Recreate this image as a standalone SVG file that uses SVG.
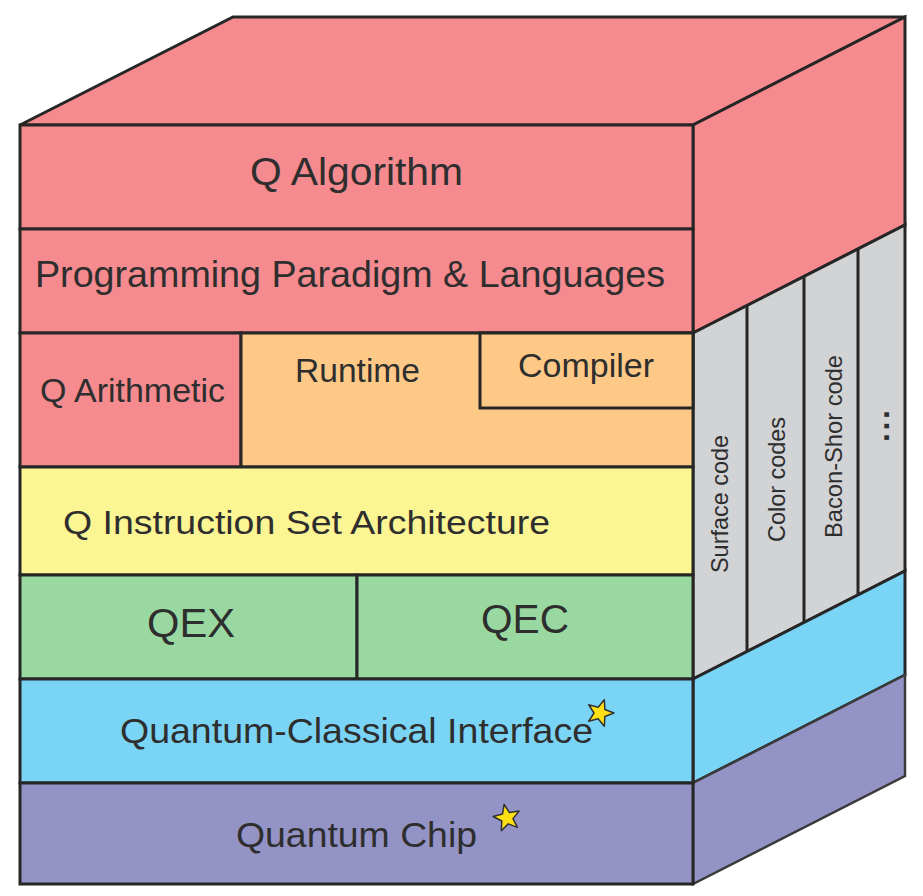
<svg xmlns="http://www.w3.org/2000/svg" width="923" height="896" viewBox="0 0 923 896">
  <style>
    .edge { stroke: #262626; stroke-width: 3; stroke-linejoin: miter; }
    .thin { stroke: #3a3a3a; stroke-width: 2.5; }
    .red { fill: #F58A8F; }
    .orange { fill: #FEC986; }
    .yellow { fill: #FCF593; }
    .green { fill: #99D9A1; }
    .blue { fill: #7AD4F5; }
    .purple { fill: #9493C6; }
    .grey { fill: #D2D3D5; }
    .lbl { font-family: "Liberation Sans", Arial, sans-serif; fill: #2e2e2e; }
    .side { font-family: "Liberation Sans", Arial, sans-serif; fill: #2e2e2e; font-size: 24px; }
    .star { fill: #FFE014; stroke: #333; stroke-width: 1.5; stroke-linejoin: round; }
  </style>
  <defs>
    <path id="star5" d="M0,-14 L3.53,-4.85 L13.32,-4.33 L5.71,1.85 L8.23,11.33 L0,6 L-8.23,11.33 L-5.71,1.85 L-13.32,-4.33 L-3.53,-4.85 Z"/>
  </defs>

  <rect width="923" height="896" fill="#ffffff"/>

  <!-- top face of the stack -->
  <g id="top-face">
    <polygon class="red edge" points="20,125 233,17 905,17 693,125"/>
  </g>

  <!-- right-hand side face, one band per layer -->
  <g id="side-algorithm">
    <polygon class="red edge" points="693,125 905,17 905,225 693,333"/>
  </g>
  <g id="side-qec-codes">
    <polygon class="grey edge" points="693,333 905,225 905,571 693,679"/>
    <line class="edge" x1="747" y1="305.5" x2="747" y2="651.5"/>
    <line class="edge" x1="804" y1="276.5" x2="804" y2="622.5"/>
    <line class="edge" x1="858" y1="249" x2="858" y2="595"/>
    <text class="side" transform="translate(728,573) rotate(-90)" textLength="138" lengthAdjust="spacingAndGlyphs">Surface code</text>
    <text class="side" transform="translate(785,542) rotate(-90)" textLength="125" lengthAdjust="spacingAndGlyphs">Color codes</text>
    <text class="side" transform="translate(842,538) rotate(-90)" textLength="183" lengthAdjust="spacingAndGlyphs">Bacon-Shor code</text>
    <text class="side" transform="translate(889,442) rotate(-90)" style="font-size:32px;font-weight:bold" textLength="32" lengthAdjust="spacing">...</text>
  </g>
  <g id="side-interface">
    <polygon class="blue edge" points="693,679 905,571 905,675 693,783"/>
  </g>
  <g id="side-chip">
    <polygon class="purple thin" points="693,783 905,675 905,776 693,884"/>
  </g>

  <!-- front face layers -->
  <g id="q-algorithm">
    <rect class="red edge" x="20" y="125" width="673" height="104"/>
    <text class="lbl" x="250" y="185" font-size="39" textLength="213" lengthAdjust="spacingAndGlyphs">Q Algorithm</text>
  </g>
  <g id="programming">
    <rect class="red edge" x="20" y="229" width="673" height="104"/>
    <text class="lbl" x="35" y="287" font-size="37" textLength="630" lengthAdjust="spacingAndGlyphs">Programming Paradigm &amp; Languages</text>
  </g>
  <g id="q-arithmetic">
    <rect class="red edge" x="20" y="333" width="221" height="134"/>
    <text class="lbl" x="40" y="402" font-size="33" textLength="185" lengthAdjust="spacingAndGlyphs">Q Arithmetic</text>
  </g>
  <g id="runtime">
    <rect class="orange edge" x="241" y="333" width="452" height="134"/>
    <text class="lbl" x="295" y="382" font-size="33" textLength="125" lengthAdjust="spacingAndGlyphs">Runtime</text>
  </g>
  <g id="compiler">
    <rect class="orange edge" x="480" y="333" width="213" height="75"/>
    <text class="lbl" x="518" y="377" font-size="33" textLength="136" lengthAdjust="spacingAndGlyphs">Compiler</text>
  </g>
  <g id="isa">
    <rect class="yellow edge" x="20" y="467" width="673" height="108"/>
    <text class="lbl" x="63" y="534" font-size="34" textLength="487" lengthAdjust="spacingAndGlyphs">Q Instruction Set Architecture</text>
  </g>
  <g id="qex">
    <rect class="green edge" x="20" y="575" width="337" height="104"/>
    <text class="lbl" x="147" y="637" font-size="40" textLength="88" lengthAdjust="spacingAndGlyphs">QEX</text>
  </g>
  <g id="qec">
    <rect class="green edge" x="357" y="575" width="336" height="104"/>
    <text class="lbl" x="481" y="633" font-size="40" textLength="88" lengthAdjust="spacingAndGlyphs">QEC</text>
  </g>
  <g id="interface">
    <rect class="blue edge" x="20" y="679" width="673" height="104"/>
    <text class="lbl" x="120" y="743" font-size="35" textLength="473" lengthAdjust="spacingAndGlyphs">Quantum-Classical Interface</text>
    <use href="#star5" class="star" transform="translate(600,713) rotate(18)"/>
  </g>
  <g id="chip">
    <rect class="purple edge" x="20" y="783" width="673" height="101"/>
    <text class="lbl" x="236" y="847" font-size="35" textLength="241" lengthAdjust="spacingAndGlyphs">Quantum Chip</text>
    <use href="#star5" class="star" transform="translate(507,818) rotate(-12)"/>
  </g>

  <!-- no connectors in this figure -->
  <g id="connectors"/>
</svg>
